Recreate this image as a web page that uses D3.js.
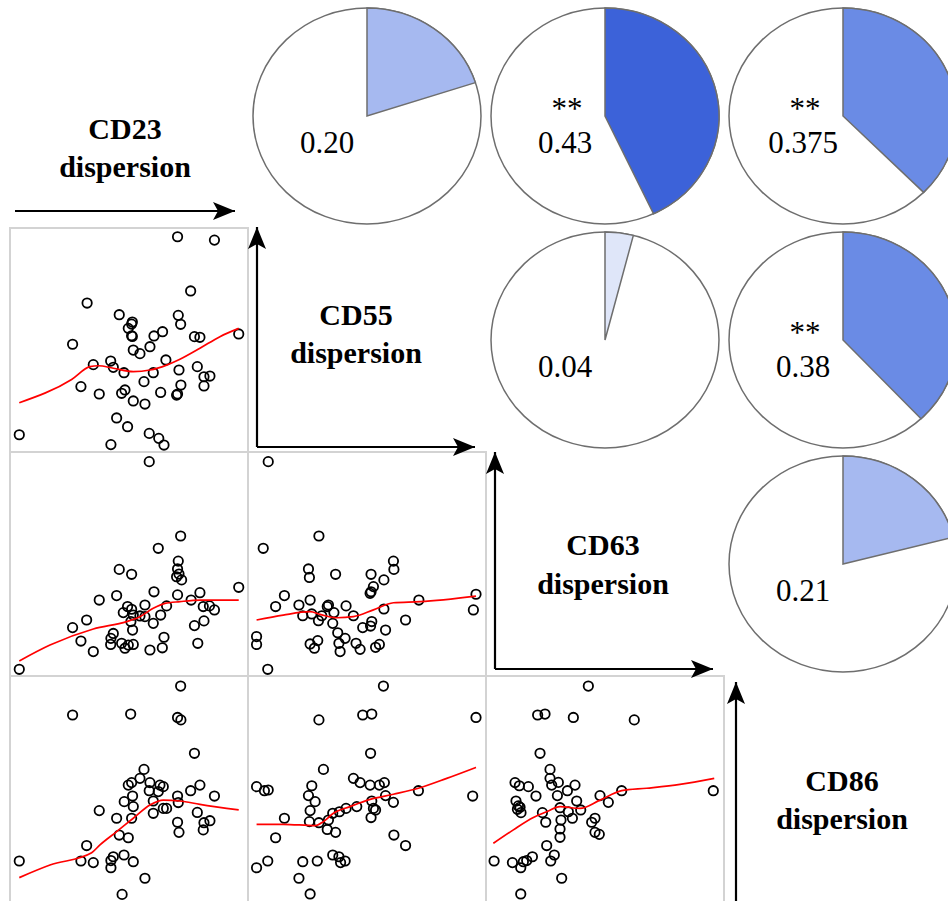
<!DOCTYPE html>
<html>
<head>
<meta charset="utf-8">
<script src="https://cdn.jsdelivr.net/npm/d3@7"></script>
<style>
  body { margin: 0; background: #fff; }
  svg { display: block; }
</style>
</head>
<body>
<svg id="chart"></svg>
<script>
// variables on the diagonal
const variables = ["CD23", "CD55", "CD63", "CD86"];

// upper triangle: correlation pies
const corrPairs = [[0, 1], [0, 2], [0, 3], [1, 2], [1, 3], [2, 3]];
const corrR = [0.20, 0.43, 0.375, 0.04, 0.38, 0.21];
const corrText = ["0.20", "0.43", "0.375", "0.04", "0.38", "0.21"];
const corrStars = ["", "**", "**", "", "**", ""];

// lower triangle: scatter points [x, y] (0-100 dispersion scale)
// row CD55, col CD23
const ptsCD55vsCD23 = [
  [70.4, 96.1], [85.9, 94.6], [75.9, 71.9], [32.4, 66.5], [45.9, 61.3], [51.4, 58.0],
  [51.1, 57.1], [70.7, 61.0], [71.7, 57.0], [49.7, 55.2], [51.1, 51.9], [51.4, 51.6],
  [60.5, 51.8], [64.1, 53.7], [26.3, 48.1], [77.5, 51.5], [79.8, 51.2], [96.1, 52.7],
  [51.8, 45.5], [54.6, 43.9], [58.8, 47.0], [65.5, 41.1], [35.0, 39.0], [42.3, 40.6],
  [43.4, 37.8], [47.9, 35.4], [60.2, 35.4], [71.0, 36.6], [78.7, 38.1], [81.5, 33.6],
  [84.0, 33.9], [81.5, 29.5], [71.8, 29.9], [56.3, 31.4], [29.8, 29.2], [37.5, 25.9],
  [48.3, 27.7], [46.9, 26.2], [51.8, 22.8], [56.7, 21.4], [63.3, 26.6], [70.0, 25.4],
  [70.4, 25.9], [44.8, 15.2], [49.4, 11.3], [58.5, 8.3], [62.5, 6.1], [64.7, 3.1],
  [42.4, 3.3], [3.9, 7.7]
];
const smoothCD55vsCD23 = [
  [3.9, 22.0], [25.9, 32.4], [33.6, 38.1], [37.1, 38.5], [43.4, 37.4], [51.8, 35.9],
  [58.8, 36.6], [65.8, 38.8], [71.4, 41.4], [79.8, 46.3], [88.2, 51.5], [96.1, 55.2]
];
// row CD63, col CD23
const ptsCD63vsCD23 = [
  [58.5, 95.7], [71.7, 62.5], [62.3, 57.0], [70.7, 51.3], [70.4, 47.8], [71.0, 45.5],
  [70.0, 44.3], [72.1, 42.9], [45.9, 47.6], [51.1, 45.4], [60.5, 37.6], [70.4, 36.2],
  [76.1, 33.9], [79.8, 37.2], [96.1, 39.6], [37.5, 33.9], [44.8, 35.9], [56.7, 31.7],
  [49.4, 31.0], [51.1, 29.8], [47.6, 28.3], [51.8, 27.2], [54.6, 26.8], [56.7, 26.5],
  [65.8, 31.3], [63.3, 27.2], [60.2, 23.5], [81.2, 31.0], [83.8, 31.3], [85.9, 29.5],
  [81.5, 24.6], [77.5, 22.5], [78.9, 14.6], [26.3, 21.6], [32.2, 25.0], [51.5, 20.5],
  [29.8, 15.6], [35.0, 10.9], [43.4, 19.0], [42.4, 16.8], [42.3, 14.1], [46.9, 14.6],
  [48.3, 12.4], [49.7, 13.8], [51.8, 14.1], [58.8, 11.6], [64.7, 17.3], [64.0, 12.6],
  [3.9, 3.0], [50.8, 24.3]
];
const smoothCD63vsCD23 = [
  [3.9, 6.7], [16.8, 13.8], [35.0, 21.0], [49.0, 24.3], [54.6, 26.5], [60.2, 30.2],
  [65.1, 32.4], [71.4, 33.2], [79.8, 33.9], [96.1, 33.9]
];
// row CD63, col CD55
const ptsCD63vsCD55 = [
  [8.5, 95.7], [29.8, 62.5], [6.4, 57.0], [25.4, 47.8], [25.8, 44.0], [36.8, 45.4],
  [61.1, 51.3], [61.3, 47.6], [51.7, 45.4], [57.1, 42.9], [52.7, 39.9], [51.7, 37.6],
  [51.3, 36.9], [15.3, 35.9], [11.6, 31.0], [26.1, 33.9], [21.4, 31.7], [33.8, 31.7],
  [41.2, 31.3], [23.0, 26.9], [26.8, 27.7], [31.0, 26.9], [36.1, 28.3], [29.6, 24.7],
  [35.6, 23.5], [44.3, 26.9], [57.1, 29.9], [71.8, 33.9], [95.8, 36.5], [94.7, 29.5],
  [66.2, 25.0], [52.0, 24.3], [51.5, 22.3], [48.2, 21.6], [57.8, 20.5], [37.7, 19.3],
  [40.8, 16.8], [38.2, 14.6], [38.7, 10.9], [3.6, 17.6], [3.6, 14.1], [29.3, 15.8],
  [26.1, 14.3], [27.9, 12.4], [45.4, 14.6], [47.1, 11.9], [53.6, 12.8], [55.2, 14.1],
  [8.3, 3.0], [33.3, 31.0]
];
const smoothCD63vsCD55 = [
  [3.6, 25.0], [14.8, 27.2], [26.1, 28.7], [30.3, 27.5], [37.3, 26.0], [44.3, 26.5],
  [52.7, 29.5], [61.1, 32.7], [72.3, 33.2], [95.8, 35.7]
];
// row CD86, col CD23
const ptsCD86vsCD23 = [
  [71.7, 95.5], [26.3, 82.6], [50.7, 83.0], [70.4, 81.5], [71.8, 80.4], [77.5, 65.5],
  [56.3, 58.3], [54.6, 54.3], [49.7, 51.3], [51.1, 52.4], [58.8, 52.4], [63.0, 51.3],
  [64.4, 50.6], [58.5, 48.8], [62.3, 48.4], [79.8, 51.3], [75.9, 48.8], [85.9, 46.4],
  [51.5, 46.4], [48.0, 43.9], [51.8, 41.7], [60.2, 44.2], [70.4, 46.4], [70.7, 43.5],
  [64.4, 40.9], [65.8, 40.9], [60.2, 38.7], [37.5, 39.9], [44.8, 36.5], [51.1, 36.5],
  [78.7, 39.1], [81.5, 34.5], [84.0, 35.4], [81.2, 31.3], [70.4, 34.7], [71.0, 30.2],
  [45.9, 29.0], [49.7, 27.8], [32.2, 24.3], [29.8, 17.4], [35.0, 16.7], [3.9, 17.4],
  [43.4, 19.3], [42.4, 17.6], [42.4, 14.4], [47.9, 20.1], [51.8, 17.1], [56.7, 9.7],
  [47.1, 2.5]
];
const smoothCD86vsCD23 = [
  [3.9, 10.0], [16.8, 15.6], [34.3, 21.1], [37.8, 24.6], [44.8, 30.5], [51.8, 36.5],
  [58.8, 42.4], [64.4, 44.6], [71.4, 44.2], [79.8, 42.7], [96.1, 40.2]
];
// row CD86, col CD55
const ptsCD86vsCD55 = [
  [56.9, 95.5], [29.8, 80.4], [48.2, 82.6], [52.0, 83.0], [95.8, 81.5], [51.5, 65.5],
  [31.7, 58.3], [44.3, 54.3], [47.1, 52.4], [51.3, 51.3], [55.2, 51.3], [57.3, 52.4],
  [26.8, 51.0], [25.4, 46.6], [28.2, 43.9], [26.1, 39.9], [3.6, 50.6], [6.9, 48.8],
  [8.5, 49.1], [57.8, 46.6], [71.6, 48.8], [94.4, 46.4], [52.0, 44.2], [61.1, 43.6],
  [45.7, 41.7], [41.2, 40.9], [38.4, 39.4], [35.6, 38.7], [52.7, 40.9], [53.6, 40.2],
  [51.7, 36.8], [15.3, 36.5], [25.8, 35.0], [29.8, 34.5], [33.8, 35.7], [33.3, 31.5],
  [36.8, 30.2], [11.6, 27.8], [61.3, 29.0], [66.2, 24.3], [35.6, 20.1], [38.2, 19.3],
  [38.9, 16.7], [40.8, 17.4], [3.6, 14.4], [8.3, 17.4], [23.0, 17.1], [29.1, 17.4],
  [21.4, 9.7], [26.1, 2.7]
];
const smoothCD86vsCD55 = [
  [3.6, 33.8], [14.8, 33.8], [28.2, 33.2], [31.7, 35.0], [35.9, 38.7], [42.9, 41.7],
  [51.3, 44.9], [61.1, 47.2], [71.6, 49.9], [83.5, 54.3], [95.8, 59.2]
];
// row CD86, col CD63
const ptsCD86vsCD63 = [
  [43.0, 95.5], [21.7, 82.6], [24.8, 83.0], [36.7, 81.5], [62.3, 80.4], [22.7, 65.5],
  [26.9, 58.3], [26.9, 54.3], [27.6, 51.3], [30.4, 52.5], [37.4, 51.3], [34.2, 48.8],
  [30.0, 46.6], [12.2, 52.4], [14.0, 51.0], [17.8, 50.6], [21.0, 46.4], [12.6, 44.2],
  [13.6, 42.0], [14.3, 41.4], [13.2, 40.5], [14.7, 39.0], [23.7, 39.0], [25.1, 34.7],
  [31.1, 41.2], [34.6, 39.4], [38.1, 44.2], [39.8, 40.2], [36.3, 36.5], [31.5, 35.7],
  [31.1, 31.7], [31.1, 28.0], [47.9, 46.6], [51.4, 43.6], [57.0, 48.8], [95.5, 48.8],
  [45.8, 36.5], [44.4, 34.7], [45.8, 30.2], [47.6, 29.3], [25.5, 24.3], [28.7, 20.1],
  [27.2, 17.4], [19.5, 19.3], [17.1, 17.6], [15.7, 17.1], [11.1, 16.7], [14.6, 14.4],
  [3.4, 17.4], [31.8, 9.7], [14.6, 2.7]
];
const smoothCD86vsCD63 = [
  [3.1, 25.3], [11.5, 31.3], [19.9, 36.8], [25.5, 39.4], [31.1, 41.7], [39.5, 40.9],
  [47.9, 44.6], [57.0, 48.8], [67.5, 49.9], [81.5, 51.6], [95.9, 54.3]
];

const scatterPanels = [
  { row: 1, col: 0, points: ptsCD55vsCD23, smooth: smoothCD55vsCD23 },
  { row: 2, col: 0, points: ptsCD63vsCD23, smooth: smoothCD63vsCD23 },
  { row: 2, col: 1, points: ptsCD63vsCD55, smooth: smoothCD63vsCD55 },
  { row: 3, col: 0, points: ptsCD86vsCD23, smooth: smoothCD86vsCD23 },
  { row: 3, col: 1, points: ptsCD86vsCD55, smooth: smoothCD86vsCD55 },
  { row: 3, col: 2, points: ptsCD86vsCD63, smooth: smoothCD86vsCD63 }
];

// layout
const width = 948;
const height = 901;
const left = 10;
const top0 = 4;
const cellW = 238;
const cellH = 224;
const serif = "'Liberation Serif', 'Times New Roman', Times, serif";

const cellX = (j) => left + j * cellW;
const cellY = (i) => top0 + i * cellH;

// diagonal label / arrow placement, relative to the cell
const diagLayout = [
  { lx: 115, ly: [135, 173], h: { y: 207, x1: 5, x2: 225 } },
  { lx: 108, ly: [97, 135], v: { x: 9, y1: 219, y2: -1 }, h: { y: 219, x1: 9, x2: 227 } },
  { lx: 117, ly: [103, 142], v: { x: 9, y1: 217, y2: 0 }, h: { y: 217, x1: 9, x2: 227 } },
  { lx: 118, ly: [115, 153], v: { x: 12, y1: 240, y2: 6 } }
];

const svg = d3
  .select("#chart")
  .attr("width", width)
  .attr("height", height)
  .attr("viewBox", `0 0 ${width} ${height}`);

svg.append("rect").attr("width", width).attr("height", height).attr("fill", "#fff");

// arrow head marker
svg
  .append("defs")
  .append("marker")
  .attr("id", "head")
  .attr("markerUnits", "userSpaceOnUse")
  .attr("markerWidth", 24)
  .attr("markerHeight", 20)
  .attr("refX", 22)
  .attr("refY", 10)
  .attr("orient", "auto")
  .append("path")
  .attr("d", "M0,1 L22,10 L0,19 L5,10 Z")
  .attr("fill", "#000");

//1. Scatter panels
const lineGen = d3.line().curve(d3.curveMonotoneX);

scatterPanels.forEach((p) => {
  const x0 = cellX(p.col);
  const y0 = cellY(p.row);
  const x = d3.scaleLinear().domain([0, 100]).range([x0, x0 + cellW]);
  const y = d3.scaleLinear().domain([0, 100]).range([y0 + cellH, y0]);

  const g = svg.append("g");

  // last row runs off the bottom of the picture, so no bottom edge there
  g.append("rect")
    .attr("x", x0)
    .attr("y", y0)
    .attr("width", cellW)
    .attr("height", p.row === 3 ? cellH + 6 : cellH)
    .attr("fill", "none")
    .attr("stroke", "#d3d3d3")
    .attr("stroke-width", 2);

  g.selectAll("circle")
    .data(p.points)
    .join("circle")
    .attr("cx", (d) => x(d[0]))
    .attr("cy", (d) => y(d[1]))
    .attr("r", 4.7)
    .attr("fill", "none")
    .attr("stroke", "#000")
    .attr("stroke-width", 1.8);

  g.append("path")
    .attr("d", lineGen(p.smooth.map((d) => [x(d[0]), y(d[1])])))
    .attr("fill", "none")
    .attr("stroke", "red")
    .attr("stroke-width", 1.7);
});

//2. Correlation pies
const color = d3
  .scaleThreshold()
  .domain([0.1, 0.2, 0.3, 0.4])
  .range(["#dfe6f9", "#c3d0f5", "#a6b9f0", "#6a8be5", "#3c62d9"]);

const ry = 108;
const rx = 114;
const arc = d3.arc().innerRadius(0).outerRadius(ry);

corrPairs.forEach(([i, j], k) => {
  const cx = cellX(j) + cellW / 2;
  const cy = cellY(i) + cellH / 2;

  const g = svg
    .append("g")
    .attr("transform", `translate(${cx},${cy}) scale(${rx / ry},1)`);

  g.append("circle")
    .attr("r", ry)
    .attr("fill", "#fff")
    .attr("stroke", "#6e6e6e")
    .attr("stroke-width", 1.5)
    .attr("vector-effect", "non-scaling-stroke");

  g.append("path")
    .attr("d", arc({ startAngle: 0, endAngle: corrR[k] * 2 * Math.PI }))
    .attr("fill", color(corrR[k]))
    .attr("stroke", "#6e6e6e")
    .attr("stroke-width", 1.5)
    .attr("vector-effect", "non-scaling-stroke");

  const t = svg.append("g").style("font-family", serif).attr("fill", "#000");

  if (corrStars[k]) {
    t.append("text")
      .attr("x", cx - 38)
      .attr("y", cy + 3)
      .attr("text-anchor", "middle")
      .attr("font-size", 31)
      .text(corrStars[k]);
  }

  t.append("text")
    .attr("x", cx - 40)
    .attr("y", cy + 37)
    .attr("text-anchor", "middle")
    .attr("font-size", 31)
    .text(corrText[k]);
});

//3. Diagonal labels and arrows
variables.forEach((v, k) => {
  const x0 = cellX(k);
  const y0 = cellY(k);
  const L = diagLayout[k];
  const g = svg.append("g");

  g.append("text")
    .attr("x", x0 + L.lx)
    .attr("y", y0 + L.ly[0])
    .attr("text-anchor", "middle")
    .style("font-family", serif)
    .attr("font-weight", "bold")
    .attr("font-size", 30)
    .text(v);

  g.append("text")
    .attr("x", x0 + L.lx)
    .attr("y", y0 + L.ly[1])
    .attr("text-anchor", "middle")
    .style("font-family", serif)
    .attr("font-weight", "bold")
    .attr("font-size", 30)
    .text("dispersion");

  if (L.v) {
    g.append("line")
      .attr("x1", x0 + L.v.x)
      .attr("y1", y0 + L.v.y1)
      .attr("x2", x0 + L.v.x)
      .attr("y2", y0 + L.v.y2)
      .attr("stroke", "#000")
      .attr("stroke-width", 2.2)
      .attr("marker-end", "url(#head)");
  }
  if (L.h) {
    g.append("line")
      .attr("x1", x0 + L.h.x1)
      .attr("y1", y0 + L.h.y)
      .attr("x2", x0 + L.h.x2)
      .attr("y2", y0 + L.h.y)
      .attr("stroke", "#000")
      .attr("stroke-width", 2.2)
      .attr("marker-end", "url(#head)");
  }
});
</script>
</body>
</html>
